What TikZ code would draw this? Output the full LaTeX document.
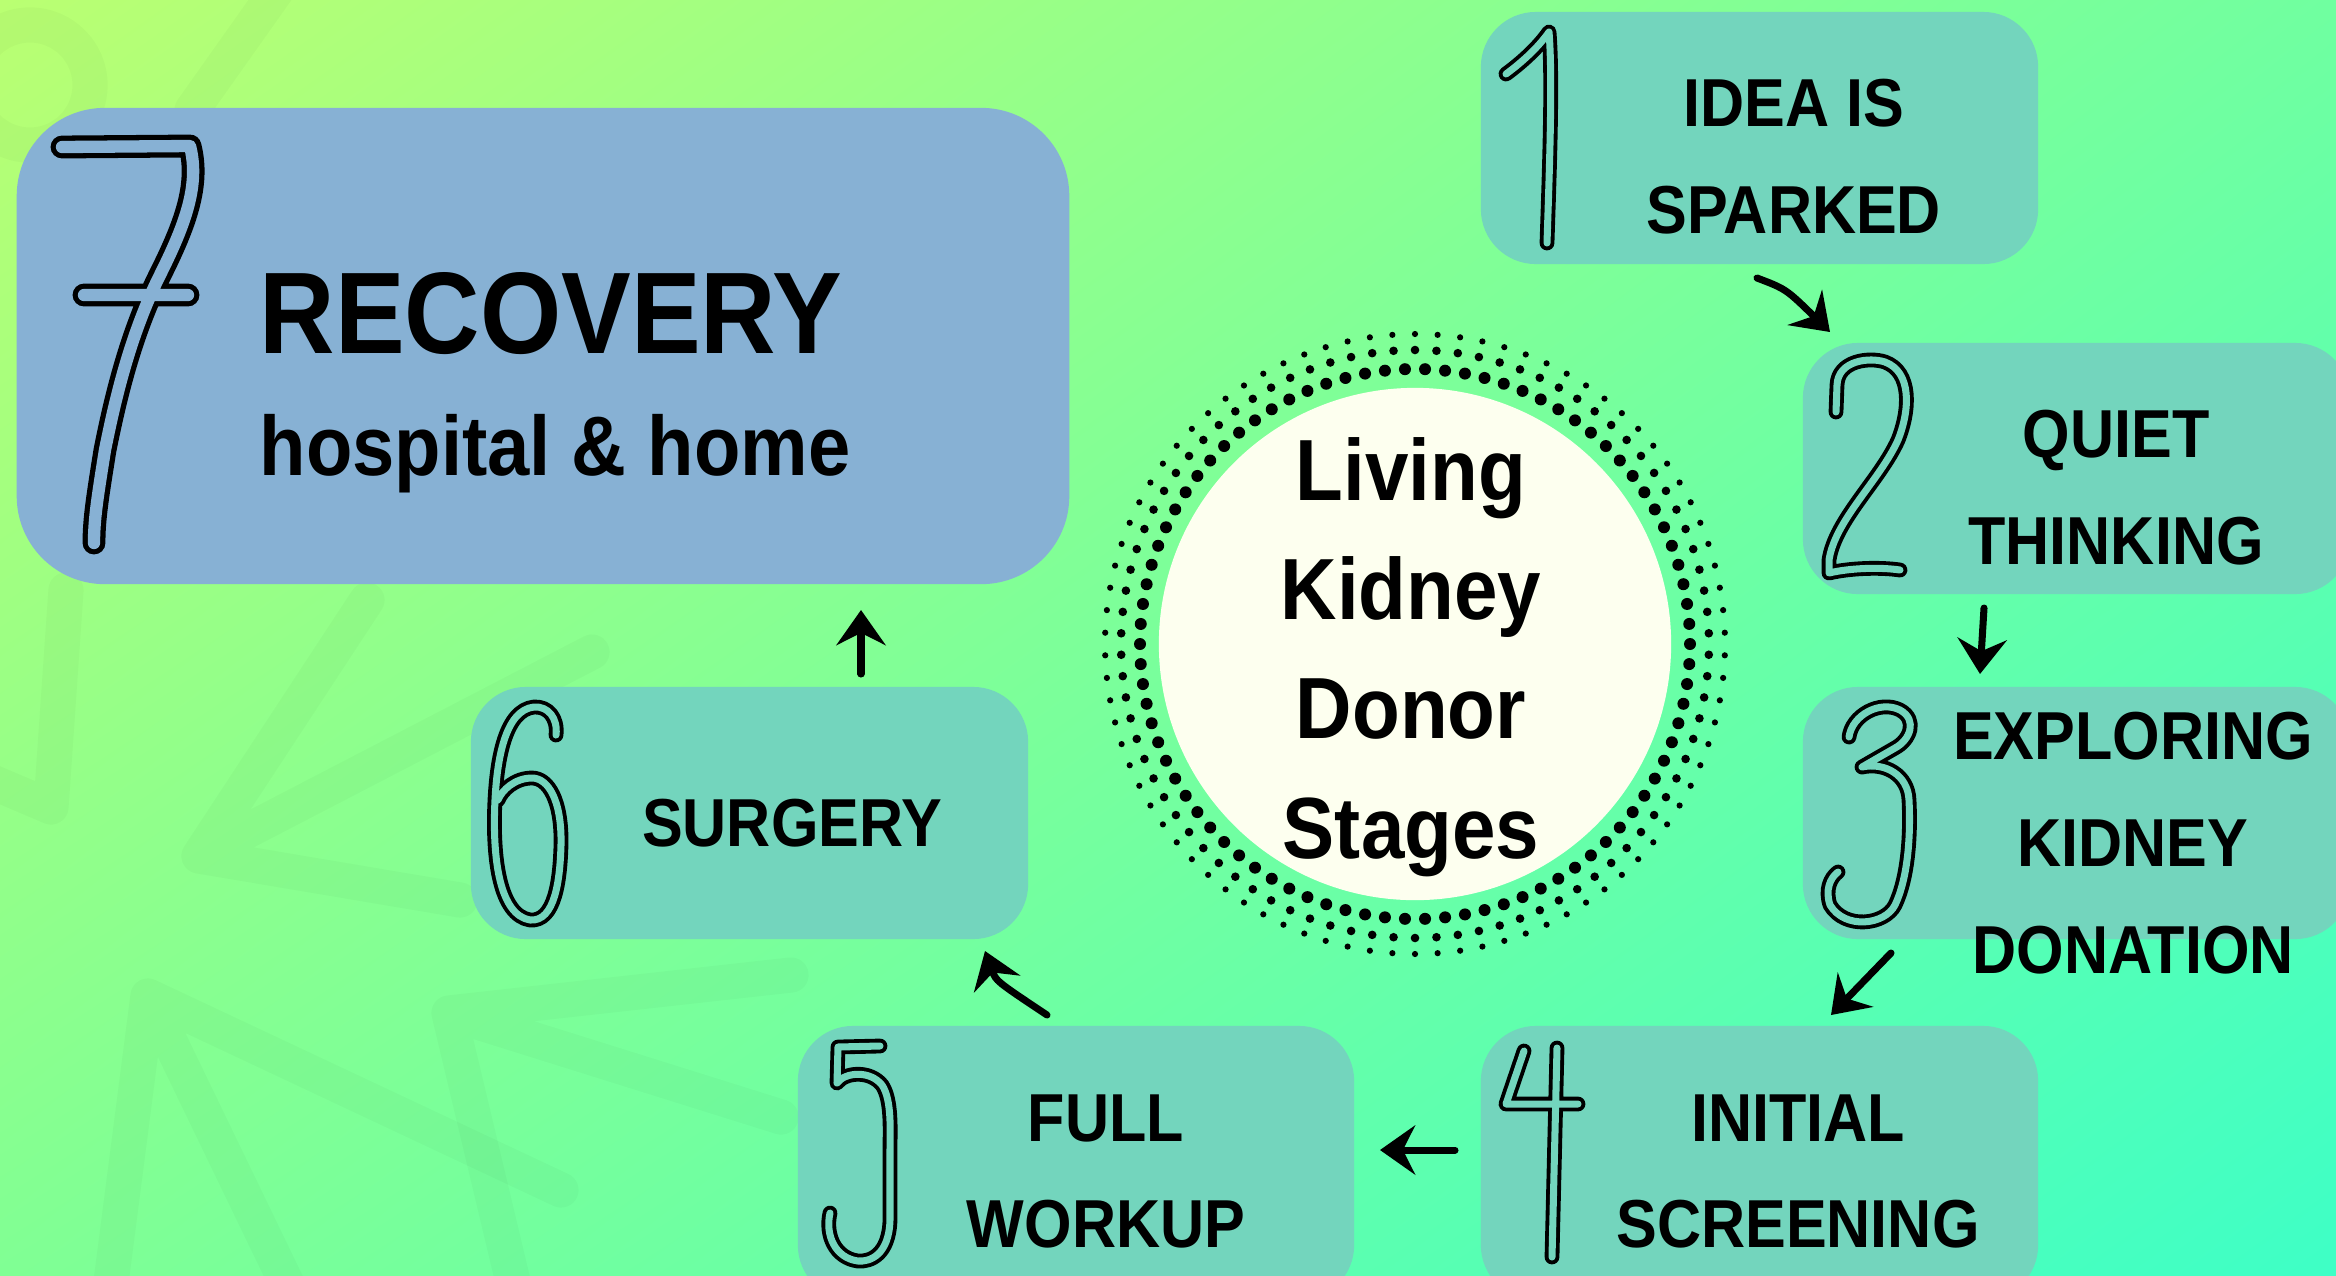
\documentclass[tikz,border=0pt]{standalone}
\usepackage{fontspec}
\setmainfont{Liberation Sans}[FakeStretch=0.9]
\usetikzlibrary{arrows.meta,shadings}

\definecolor{bgTL}{RGB}{186,255,114}
\definecolor{bgTR}{RGB}{112,255,160}
\definecolor{bgBL}{RGB}{128,255,148}
\definecolor{bgBR}{RGB}{62,255,198}
\definecolor{stagegreen}{RGB}{115,213,189}
\definecolor{recoveryblue}{RGB}{135,177,212}
\definecolor{ivory}{RGB}{253,255,239}

\tikzset{
  stagebox/.style={fill=stagegreen, draw=none, rounded corners=0.55cm, inner sep=0pt},
  stagetext/.style={align=center, inner sep=0pt, font=\bfseries\fontsize{19.3}{30.3}\selectfont},
  digit/.style={line width=1.1pt, double=stagegreen, double distance=2pt, line cap=round, line join=round},
  flow/.style={line width=2pt, line cap=round, -{Stealth[length=10pt,width=14pt,inset=3.5pt]}},
  leaf/.style={line width=10pt, line cap=round, line join=round, draw=black, draw opacity=0.025}
}

\begin{document}
\begin{tikzpicture}[x=0.01cm,y=-0.01cm]
\useasboundingbox (0,0) rectangle (2336,1275);
\begin{scope}
\clip (0,0) rectangle (2336,1275);
\shade[upper left=bgTL, upper right=bgTR, lower left=bgBL, lower right=bgBR] (0,0) rectangle (2336,1275);

% faint leaves in the background
\draw[leaf] (367,600) -- (199,856) -- (592,652) (199,856) -- (460,900);
\draw[leaf] (110,1290) -- (148,996) -- (290,1290) (148,996) -- (561,1190);
\draw[leaf] (791,975) -- (449,1013) -- (781,1117) (449,1013) -- (515,1290);
\draw[leaf] (66,590) -- (51,807) -- (-10,781);
\draw[leaf] (30,85) circle[radius=0.6cm];
\draw[leaf] (277,-10) -- (192,110);

% stage boxes
\node[stagebox, fill=recoveryblue, rounded corners=0.88cm, minimum width=10.52cm, minimum height=4.76cm] (s7) at (543,346) {};
\node[stagebox, minimum width=5.57cm, minimum height=2.52cm] (s1) at (1759.5,138) {};
\node[stagebox, minimum width=5.47cm, minimum height=2.51cm] (s2) at (2076.5,468.5) {};
\node[stagebox, minimum width=5.47cm, minimum height=2.52cm] (s3) at (2076.5,813) {};
\node[stagebox, minimum width=5.57cm, minimum height=2.74cm] (s4) at (1759.5,1163) {};
\node[stagebox, minimum width=5.56cm, minimum height=2.74cm] (s5) at (1076,1163) {};
\node[stagebox, minimum width=5.57cm, minimum height=2.52cm] (s6) at (749.5,813) {};

% centre badge
\coordinate (c) at (1415,644);
\fill[ivory] (c) circle[radius=2.56cm];
\foreach \i in {0,...,85}{
  \fill (c) ++(\i*4.186:275) circle[radius=0.06cm];
  \fill (c) ++(\i*4.186+2.093:294) circle[radius=0.043cm];
  \fill (c) ++(\i*4.186+2.093:310) circle[radius=0.031cm];
}
\node[align=center, inner sep=0pt, font=\bfseries\fontsize{24.7}{33.9}\selectfont] (title) at (1411,657) {Living\\Kidney\\Donor\\Stages};

% stage texts
\node[stagetext] (t1) at (1794,156.5) {IDEA IS\\SPARKED};
\node[stagetext] (t2) at (2116,487.5) {QUIET\\THINKING};
\node[stagetext, font=\bfseries\fontsize{19.3}{30.4}\selectfont] (t3) at (2133,843) {EXPLORING\\KIDNEY\\DONATION};
\node[stagetext] (t4) at (1798,1171.5) {INITIAL\\SCREENING};
\node[stagetext] (t5) at (1106,1171.5) {FULL\\WORKUP};
\node[stagetext] (t6) at (792,823.5) {SURGERY};
\node[anchor=base west, inner sep=0pt, font=\bfseries\fontsize{33}{39}\selectfont] (t7a) at (259,353) {RECOVERY};
\node[anchor=base west, inner sep=0pt, font=\bfseries\fontsize{24}{29}\selectfont] (t7b) at (259,475) {hospital \& home};

% hand drawn numbers
\draw[digit] (1506,74) .. controls (1525,60) and (1540,45) .. (1549,32) .. controls (1553,80) and (1549,180) .. (1547,243);
\draw[digit] (1836,412) -- (1837,385) .. controls (1838,360) and (1870,357) .. (1885,362) .. controls (1912,372) and (1910,410) .. (1898,440) .. controls (1880,480) and (1835,520) .. (1829,560) -- (1829,573) .. controls (1850,568) and (1880,567) .. (1900,570);
\draw[digit] (1849,737) .. controls (1852,715) and (1880,700) .. (1900,710) .. controls (1918,720) and (1910,740) .. (1895,748) -- (1862,767) .. controls (1885,762) and (1908,775) .. (1909,800) .. controls (1911,840) and (1907,880) .. (1895,905) .. controls (1885,925) and (1845,930) .. (1830,905) .. controls (1825,890) and (1830,878) .. (1838,872);
\draw[digit] (1524,1051) -- (1506,1104) -- (1578,1104) (1557,1048) -- (1552,1257);
\draw[digit] (880,1046) -- (838,1047) -- (837,1083) .. controls (845,1072) and (870,1070) .. (882,1085) .. controls (892,1100) and (890,1130) .. (890,1150) -- (890,1220) .. controls (889,1255) and (870,1262) .. (858,1261) .. controls (835,1258) and (825,1235) .. (830,1213);
\draw[digit] (556,735) .. controls (558,718) and (548,706) .. (534,707) .. controls (505,710) and (497,760) .. (495,800) .. controls (492,860) and (500,915) .. (530,920) .. controls (555,922) and (560,880) .. (561,845) .. controls (562,800) and (548,778) .. (532,778) .. controls (515,778) and (502,790) .. (498,800);
\draw[digit, double=recoveryblue, line width=1.5pt, double distance=3.5pt] (62,147) -- (190,146) .. controls (200,185) and (185,225) .. (160,275) .. controls (130,335) and (115,400) .. (105,450) .. controls (97,500) and (94,520) .. (94,543) (84,295) -- (188,295);

% arrows between the stages
\coordinate (a12s) at (1757,278);  \coordinate (a12e) at (1830,332);
\coordinate (a23s) at (1984,608);  \coordinate (a23e) at (1980,674);
\coordinate (a34s) at (1891,953);  \coordinate (a34e) at (1831,1015);
\coordinate (a45s) at (1455,1150); \coordinate (a45e) at (1380,1150);
\coordinate (a56s) at (1047,1015); \coordinate (a56e) at (985,951);
\coordinate (a67s) at (861,674);   \coordinate (a67e) at (861,610);
\draw[flow] (a12s) .. controls (1786,289) .. (a12e);
\draw[flow] (a23s) -- (a23e);
\draw[flow] (a34s) -- (a34e);
\draw[flow] (a45s) -- (a45e);
\draw[flow] (a56s) .. controls (996,981) .. (a56e);
\draw[flow] (a67s) -- (a67e);
\end{scope}
\end{tikzpicture}
\end{document}
